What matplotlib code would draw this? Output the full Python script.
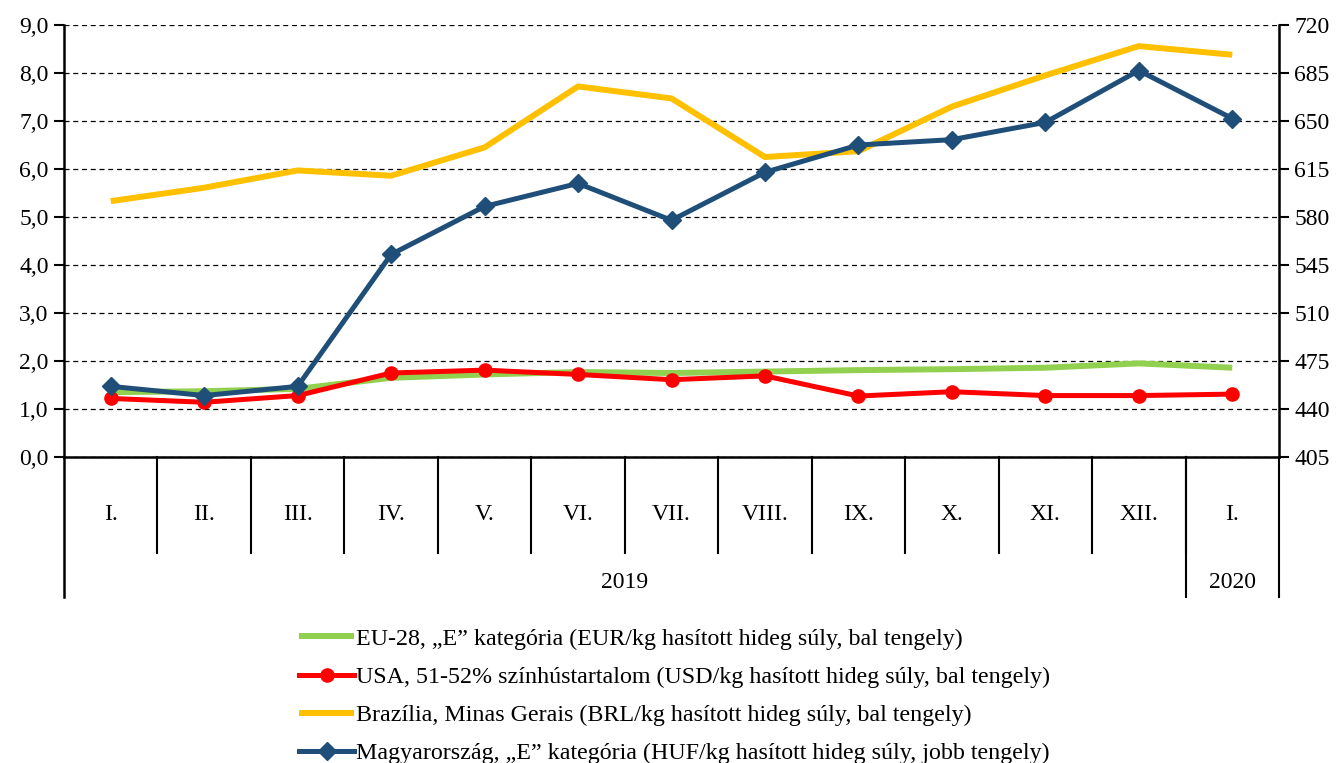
import matplotlib
matplotlib.use("Agg")
import matplotlib.pyplot as plt
from matplotlib.ticker import FuncFormatter

plt.rcParams["font.family"] = ["Liberation Serif", "DejaVu Serif"]

months = ["I.", "II.", "III.", "IV.", "V.", "VI.", "VII.", "VIII.", "IX.", "X.", "XI.", "XII.", "I."]
years = ["2019", "2020"]
year_span = [12, 1]  # number of months per year group

eu = [1.35, 1.37, 1.42, 1.65, 1.72, 1.77, 1.75, 1.78, 1.81, 1.83, 1.86, 1.95, 1.86]
usa = [1.22, 1.14, 1.28, 1.75, 1.81, 1.72, 1.61, 1.69, 1.27, 1.36, 1.28, 1.28, 1.31]
bra = [5.33, 5.61, 5.97, 5.86, 6.45, 7.72, 7.47, 6.25, 6.37, 7.30, 7.95, 8.56, 8.38]
huf = [456.5, 449.8, 456.5, 552.7, 587.7, 604.5, 577.6, 612.6, 632.5, 636.4, 649.0, 686.8, 651.8]

labels = [
    "EU-28, \u201eE\u201d kategória (EUR/kg hasított hideg súly, bal tengely)",
    "USA, 51-52% színhústartalom (USD/kg hasított hideg súly, bal tengely)",
    "Brazília, Minas Gerais (BRL/kg hasított hideg súly, bal tengely)",
    "Magyarország, \u201eE\u201d kategória (HUF/kg hasított hideg súly, jobb tengely)",
]

FS = 17

fig = plt.figure(figsize=(13.37, 7.63), dpi=100)
ax = fig.add_axes([64 / 1337, 1 - 457 / 763, (1279 - 64) / 1337, 432 / 763])
ax2 = ax.twinx()

x = list(range(len(months)))
l1, = ax.plot(x, eu, color="#92D050", lw=4.3, solid_capstyle="butt", zorder=3)
l2, = ax.plot(x, usa, color="#FF0000", lw=3.6, marker="o", ms=9.5, zorder=4)
l3, = ax.plot(x, bra, color="#FFC000", lw=4.3, solid_capstyle="butt", zorder=3)
l4, = ax2.plot(x, huf, color="#1F4E79", lw=3.6, marker="D", ms=9, zorder=5)

ax.set_xlim(-0.5, len(months) - 0.5)
ax.set_ylim(0, 9)
ax.set_yticks([i for i in range(10)])
ax.yaxis.set_major_formatter(FuncFormatter(lambda v, p: f"{v:.1f}".replace(".", ",")))
ax2.set_ylim(405, 720)
ax2.set_yticks(list(range(405, 721, 35)))
ax.grid(axis="y", color="black", ls=(0, (4, 3)), lw=0.9)
ax.set_axisbelow(True)

for a in (ax, ax2):
    a.spines["top"].set_visible(False)
    a.tick_params(axis="y", labelsize=FS, length=7, width=1.5, direction="out", pad=4)
ax.spines["left"].set_linewidth(1.8)
ax2.spines["right"].set_linewidth(1.8)
ax.spines["bottom"].set_linewidth(1.8)
ax2.spines["left"].set_visible(False)
ax2.spines["bottom"].set_visible(False)
ax.set_xticks([])

# category axis: month separators, labels and year groups
tr = ax.get_xaxis_transform()
for i in range(1, len(months)):
    ax.plot([i - 0.5, i - 0.5], [0, -0.222], transform=tr, color="black", lw=1.5, clip_on=False)
for i, m in enumerate(months):
    ax.text(i, -0.133, m, transform=tr, ha="center", va="center", fontsize=FS)
start = -0.5
for yr, n in zip(years, year_span):
    end = start + n
    ax.plot([end, end], [0, -0.324], transform=tr, color="black", lw=1.5, clip_on=False)
    ax.text((start + end) / 2, -0.29, yr, transform=tr, ha="center", va="center", fontsize=FS)
    start = end
ax.plot([-0.5, -0.5], [0, -0.324], transform=tr, color="black", lw=1.8, clip_on=False)

fig.legend([l1, l2, l3, l4], labels, loc="upper left", bbox_to_anchor=(299 / 1337, 1 - 628 / 763),
           frameon=False, fontsize=FS + 0.3, handlelength=2.3, handletextpad=0.08, labelspacing=0.68,
           borderpad=0, borderaxespad=0)

fig.savefig("out.png", dpi=100)
